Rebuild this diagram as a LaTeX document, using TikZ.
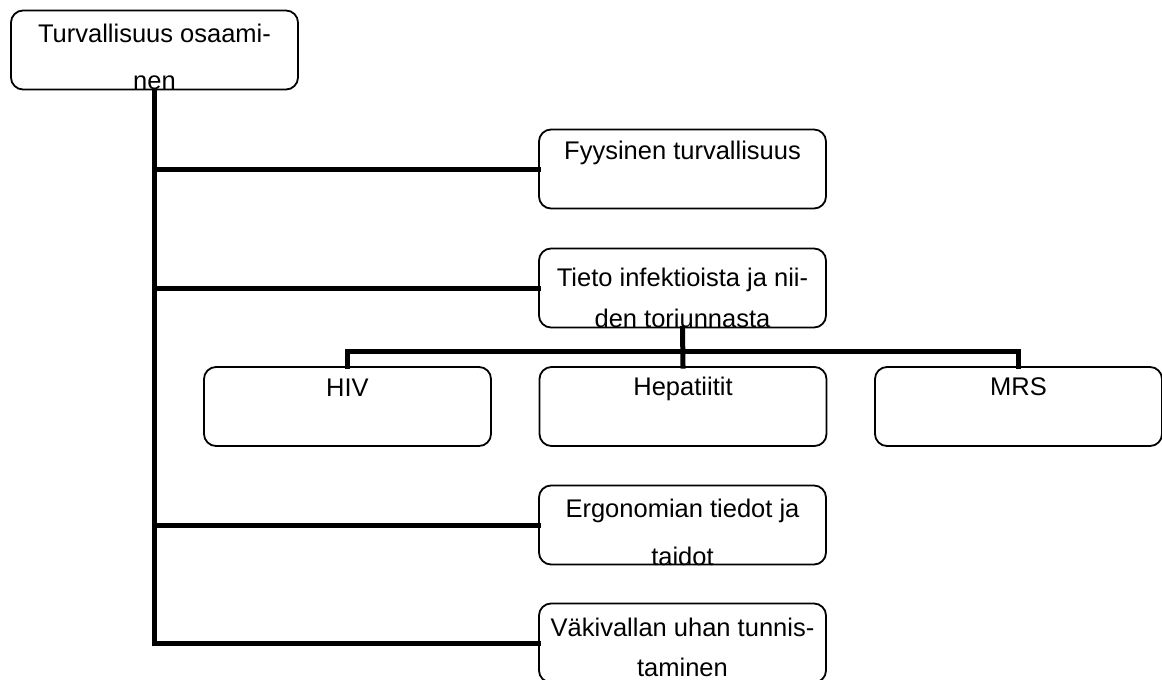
\documentclass[tikz,border=0pt]{standalone}
\usepackage{fontspec}
\setmainfont{Liberation Sans}
\usetikzlibrary{calc}
\begin{document}
\begin{tikzpicture}[x=1pt,y=-1pt,
  box/.style={draw=black, line width=1.8pt, rounded corners=12pt, minimum width=287pt, minimum height=79pt, inner sep=0pt},
  txt/.style={inner sep=0pt, align=center, font=\fontsize{25.5}{25.5}\selectfont},
  single/.style={txt, text height=18.5pt, text depth=5.3pt},
  conn/.style={line width=5pt, line join=miter, line cap=rect}]
\useasboundingbox (0,0) rectangle (1162,680);
% boxes
\node[box] (root) at (154.5,50) {};
\node[box] (fy) at (682.5,169) {};
\node[box] (tieto) at (682.5,288) {};
\node[box] (hiv) at (347.5,406.5) {};
\node[box] (hep) at (683,406.5) {};
\node[box] (mrs) at (1018.5,406.5) {};
\node[box] (ergo) at (682.5,525) {};
\node[box] (vak) at (682.5,643) {};
% texts
\node[txt, font=\fontsize{25.5}{47}\selectfont] (troot) at (154.5,57) {Turvallisuus osaami-\\nen};
\node[single] (tfy) at (682.5,152.5) {Fyysinen turvallisuus};
\node[txt, font=\fontsize{25.5}{41}\selectfont] (ttieto) at (682.5,297.5) {Tieto infektioista ja nii-\\den toriunnasta};
\node[single] (thiv) at (347.5,389.5) {HIV};
\node[single] (thep) at (683,388.5) {Hepatiitit};
\node[single] (tmrs) at (1018.5,388.5) {MRS};
\node[txt, font=\fontsize{25.5}{48}\selectfont] (tergo) at (682.5,532.5) {Ergonomian tiedot ja\\taidot};
\node[txt, font=\fontsize{25.5}{40}\selectfont] (tvak) at (682.5,647) {Väkivallan uhan tunnis-\\taminen};
% connectors
\draw[conn] (root.south) |- (vak.west);
\draw[conn] (root.south |- fy.west) -- (fy.west);
\draw[conn] (root.south |- tieto.west) -- (tieto.west);
\draw[conn] (root.south |- ergo.west) -- (ergo.west);
\coordinate (bus) at ($(tieto.south)!0.6!(hep.north)$);
\draw[conn] (tieto.south) -- (hep.north);
\draw[conn] (hiv.north) |- (bus) -| (mrs.north);
\end{tikzpicture}
\end{document}
